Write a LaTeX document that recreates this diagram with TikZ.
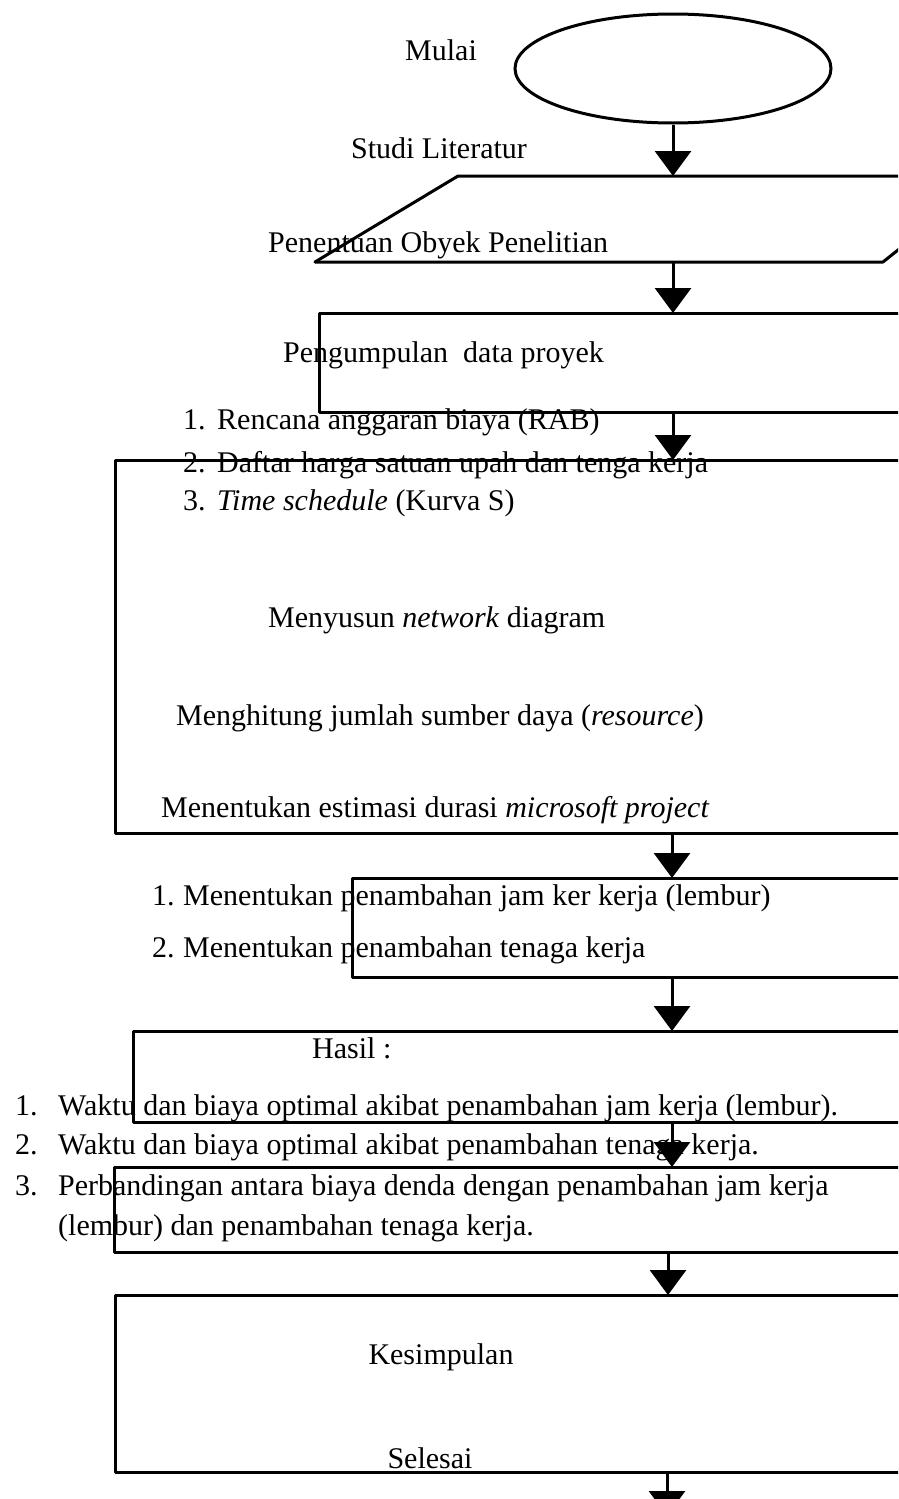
\documentclass[tikz,border=0pt]{standalone}
\usepackage{fontspec}
\setmainfont{Liberation Serif}
\usetikzlibrary{shapes.geometric,arrows.meta}
\newcommand{\numitem}[2]{\makebox[#1][l]{#2}}
\tikzset{
  lbl/.style={inner sep=0pt,font=\fontsize{30}{36}\selectfont},
  lblw/.style={lbl,anchor=west},
  line/.style={line width=3pt,line cap=round,line join=round},
  arr/.style={line width=3pt,-{Triangle[length=25pt,width=36pt]}},
}
\begin{document}
\begin{tikzpicture}[x=1pt,y=-1pt]
\useasboundingbox (0,0) rectangle (898,1499);
\clip (0,0) rectangle (898,1499);
% start ellipse
\node[ellipse,draw,line width=3pt,minimum width=316pt,minimum height=109pt,inner sep=0pt] (start) at (673,68.5) {};
% parallelogram (cut off at right)
\draw[line] (315,262) -- (458,176) -- (920,176);
\draw[line] (315,262) -- (883,262) -- (913,238);
\coordinate (paraT) at (673,176);
\coordinate (paraB) at (673,262);
% box 3
\draw[line] (920,313) -- (319,313) -- (319,412) -- (920,412);
\coordinate (b3T) at (673,313);
\coordinate (b3B) at (673,412);
% box 4
\draw[line] (920,460) -- (115,460) -- (115,833) -- (920,833);
\coordinate (b4T) at (673,460);
\coordinate (b4B) at (672,833);
% box 5
\draw[line] (920,878) -- (352,878) -- (352,977) -- (920,977);
\coordinate (b5T) at (672,878);
\coordinate (b5B) at (672,977);
% box 6
\draw[line] (920,1031) -- (133,1031) -- (133,1122) -- (920,1122);
\coordinate (b6T) at (672,1031);
\coordinate (b6B) at (672,1122);
% box 7
\draw[line] (920,1167) -- (114,1167) -- (114,1252) -- (920,1252);
\coordinate (b7T) at (672,1167);
\coordinate (b7B) at (668,1252);
% box 8
\draw[line] (920,1295) -- (115,1295) -- (115,1472) -- (920,1472);
\coordinate (b8T) at (668,1295);
\coordinate (b8B) at (667,1472);
\coordinate (endC) at (667,1516);
% arrows
\draw[arr] (start.south) -- (paraT);
\draw[arr] (paraB) -- (b3T);
\draw[arr] (b3B) -- (b4T);
\draw[arr] (b4B) -- (b5T);
\draw[arr] (b5B) -- (b6T);
\draw[arr] (b6B) -- (b7T);
\draw[arr] (b7B) -- (b8T);
\draw[arr] (b8B) -- (endC);
% texts
\node[lbl] (tMulai) at (441,50) {Mulai};
\node[lbl] (tStudi) at (439,148) {Studi Literatur};
\node[lblw] (tPenentuan) at (268,245) {Penentuan Obyek Penelitian};
\node[lblw] (tPengumpulan) at (283,355) {Pengumpulan\ \ data proyek};
\node[lblw] (t1a) at (183,422) {\numitem{34pt}{1.}Rencana anggaran biaya (RAB)};
\node[lblw] (t1b) at (183,465) {\numitem{34pt}{2.}Daftar harga satuan upah dan tenga kerja};
\node[lblw] (t1c) at (183,503) {\numitem{34pt}{3.}\textit{Time schedule} (Kurva S)};
\node[lblw] (tNetwork) at (268,620) {Menyusun \textit{network} diagram};
\node[lblw] (tResource) at (176,718) {Menghitung jumlah sumber daya (\textit{resource})};
\node[lblw] (tEstimasi) at (161,810) {Menentukan estimasi durasi \textit{microsoft project}};
\node[lblw] (t2a) at (152,898) {\numitem{31pt}{1.}Menentukan penambahan jam ker kerja (lembur)};
\node[lblw] (t2b) at (152,950) {\numitem{31pt}{2.}Menentukan penambahan tenaga kerja};
\node[lblw] (tHasil) at (312,1048) {Hasil :};
\node[lblw] (t3a) at (15,1108) {\numitem{43pt}{1.}Waktu dan biaya optimal akibat penambahan jam kerja (lembur).};
\node[lblw] (t3b) at (15,1147) {\numitem{43pt}{2.}Waktu dan biaya optimal akibat penambahan tenaga kerja.};
\node[lblw] (t3c) at (15,1188) {\numitem{43pt}{3.}Perbandingan antara biaya denda dengan penambahan jam kerja};
\node[lblw] (t3d) at (58,1228) {(lembur) dan penambahan tenaga kerja.};
\node[lbl] (tKesimpulan) at (441,1357) {Kesimpulan};
\node[lbl] (tSelesai) at (430,1458) {Selesai};
\end{tikzpicture}
\end{document}
